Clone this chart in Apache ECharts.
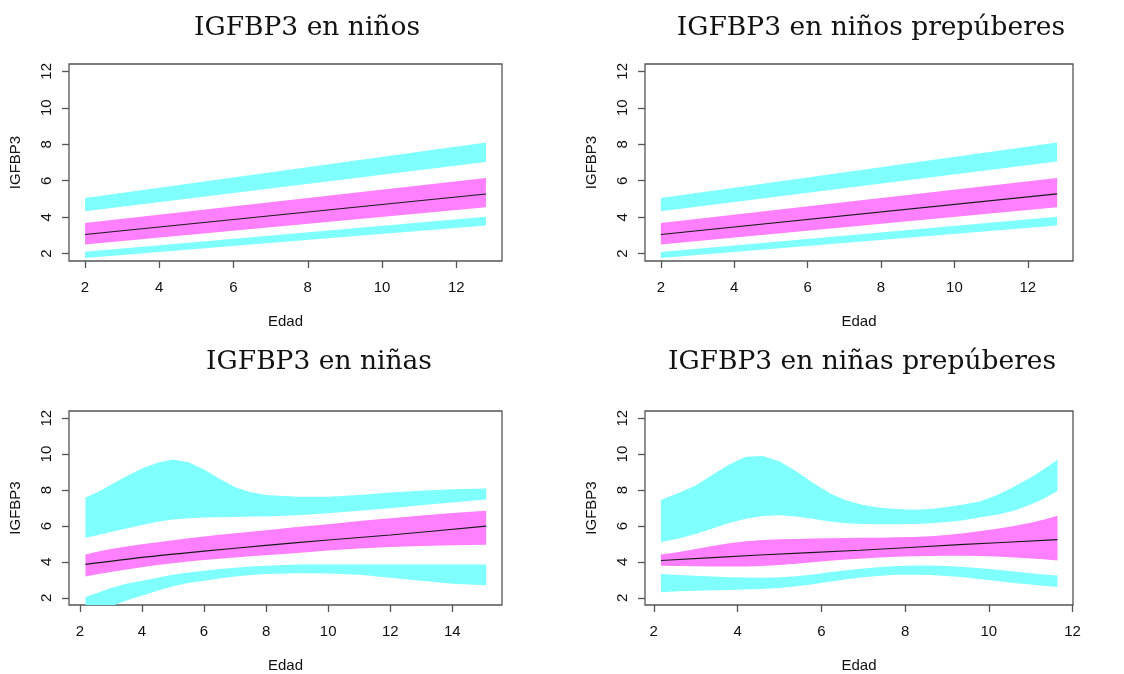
<!DOCTYPE html>
<html>
<head>
<meta charset="utf-8">
<script src="https://cdn.jsdelivr.net/npm/echarts@6/dist/echarts.min.js"></script>
<style>
  html, body { margin: 0; padding: 0; background: #fff; }
  #chart { width: 1124px; height: 674px; }
</style>
</head>
<body>
<div id="chart"></div>
<script>
// titles and ticks
const panelTitles = ['IGFBP3 en niños', 'IGFBP3 en niños prepúberes', 'IGFBP3 en niñas', 'IGFBP3 en niñas prepúberes'];
const yTicks = [2, 4, 6, 8, 10, 12];
const xTicksShort = [2, 4, 6, 8, 10, 12];
const xTicksLong = [2, 4, 6, 8, 10, 12, 14];

// panel 1: niños
const ninosX = [2, 12.8];
const ninosCyanHiTop = [5.06, 8.09];
const ninosCyanHiBot = [4.33, 7.03];
const ninosMagTop = [3.69, 6.15];
const ninosMagBot = [2.51, 4.55];
const ninosCyanLoTop = [2.11, 4.02];
const ninosCyanLoBot = [1.76, 3.54];
const ninosLineX = [2, 12.8];
const ninosLine = [3.05, 5.27];

// panel 2: niños prepúberes
const ninosPreX = [2, 12.8];
const ninosPreCyanHiTop = [5.06, 8.09];
const ninosPreCyanHiBot = [4.33, 7.05];
const ninosPreMagTop = [3.69, 6.15];
const ninosPreMagBot = [2.51, 4.55];
const ninosPreCyanLoTop = [2.1, 4.03];
const ninosPreCyanLoBot = [1.76, 3.55];
const ninosPreLineX = [2, 12.8];
const ninosPreLine = [3.05, 5.28];

// panel 3: niñas
const ninasX = [2.18, 2.6, 3, 3.5, 4, 4.5, 5, 5.5, 6, 6.5, 7, 7.5, 8, 9, 10, 11, 12, 13, 14, 15.09];
const ninasCyanHiTop = [7.58, 7.9, 8.3, 8.77, 9.2, 9.52, 9.7, 9.55, 9.15, 8.63, 8.15, 7.88, 7.72, 7.62, 7.62, 7.72, 7.86, 7.96, 8.04, 8.09];
const ninasCyanHiBot = [5.35, 5.5, 5.66, 5.86, 6.05, 6.23, 6.36, 6.43, 6.47, 6.49, 6.5, 6.52, 6.53, 6.6, 6.71, 6.84, 6.99, 7.15, 7.3, 7.48];
const ninasMagTop = [4.41, 4.58, 4.72, 4.86, 4.98, 5.1, 5.21, 5.32, 5.42, 5.51, 5.6, 5.68, 5.76, 5.94, 6.1, 6.27, 6.43, 6.58, 6.72, 6.84];
const ninasMagBot = [3.19, 3.33, 3.44, 3.57, 3.7, 3.82, 3.93, 4.02, 4.1, 4.18, 4.25, 4.31, 4.37, 4.5, 4.63, 4.74, 4.83, 4.89, 4.93, 4.96];
const ninasCyanLoTop = [2.04, 2.3, 2.55, 2.78, 2.95, 3.12, 3.28, 3.41, 3.5, 3.6, 3.67, 3.74, 3.79, 3.85, 3.86, 3.86, 3.86, 3.86, 3.86, 3.86];
const ninasCyanLoBot = [1.27, 1.35, 1.52, 1.85, 2.12, 2.4, 2.65, 2.82, 2.95, 3.08, 3.19, 3.27, 3.32, 3.37, 3.35, 3.28, 3.12, 2.95, 2.78, 2.7];
const ninasLineX = [2.18, 4, 6, 8, 10, 12, 15.09];
const ninasLine = [3.86, 4.25, 4.6, 4.92, 5.22, 5.5, 5.99];

// panel 4: niñas prepúberes
const ninasPreX = [2.17, 2.6, 3, 3.4, 3.8, 4.2, 4.6, 5, 5.4, 5.8, 6.2, 6.6, 7, 7.4, 7.8, 8.2, 8.6, 9, 9.4, 9.8, 10.2, 10.6, 11, 11.3, 11.64];
const ninasPreCyanHiTop = [7.45, 7.85, 8.25, 8.85, 9.42, 9.85, 9.9, 9.6, 9.05, 8.4, 7.82, 7.42, 7.17, 7.02, 6.94, 6.9, 6.95, 7.05, 7.2, 7.38, 7.72, 8.18, 8.7, 9.15, 9.68];
const ninasPreCyanHiBot = [5.11, 5.3, 5.55, 5.86, 6.16, 6.4, 6.56, 6.6, 6.53, 6.4, 6.25, 6.15, 6.11, 6.1, 6.1, 6.11, 6.15, 6.22, 6.32, 6.48, 6.62, 6.85, 7.2, 7.5, 7.94];
const ninasPreMagTop = [4.41, 4.55, 4.72, 4.88, 5.04, 5.15, 5.22, 5.26, 5.28, 5.3, 5.32, 5.33, 5.34, 5.35, 5.37, 5.39, 5.43, 5.5, 5.6, 5.72, 5.85, 6.0, 6.18, 6.35, 6.57];
const ninasPreMagBot = [3.79, 3.77, 3.76, 3.75, 3.74, 3.74, 3.77, 3.82, 3.9, 3.98, 4.06, 4.13, 4.19, 4.24, 4.28, 4.31, 4.33, 4.34, 4.34, 4.33, 4.3, 4.25, 4.19, 4.14, 4.08];
const ninasPreCyanLoTop = [3.32, 3.27, 3.23, 3.19, 3.15, 3.13, 3.12, 3.14, 3.2, 3.3, 3.42, 3.53, 3.63, 3.71, 3.77, 3.8, 3.8, 3.77, 3.72, 3.64, 3.56, 3.47, 3.37, 3.3, 3.24];
const ninasPreCyanLoBot = [2.31, 2.36, 2.4, 2.42, 2.44, 2.46, 2.49, 2.55, 2.64, 2.76, 2.9, 3.04, 3.15, 3.23, 3.28, 3.29, 3.27, 3.22, 3.14, 3.04, 2.94, 2.83, 2.74, 2.67, 2.6];
const ninasPreLineX = [2.17, 4.53, 6.92, 9.3, 11.64];
const ninasPreLine = [4.08, 4.38, 4.65, 4.96, 5.24];

const cyan = '#80ffff';
const magenta = '#ff80ff';
const frame = '#555555';

const panels = [
  {
    x: ninosX, bands: [[ninosCyanHiTop, ninosCyanHiBot, cyan], [ninosMagTop, ninosMagBot, magenta], [ninosCyanLoTop, ninosCyanLoBot, cyan]],
    lineX: ninosLineX, line: ninosLine, xMin: 1.568, xMax: 13.232, xTicks: xTicksShort,
    grid: {left: 69, top: 64, width: 433, height: 197}, titleX: 307, titleY: 28
  },
  {
    x: ninosPreX, bands: [[ninosPreCyanHiTop, ninosPreCyanHiBot, cyan], [ninosPreMagTop, ninosPreMagBot, magenta], [ninosPreCyanLoTop, ninosPreCyanLoBot, cyan]],
    lineX: ninosPreLineX, line: ninosPreLine, xMin: 1.568, xMax: 13.232, xTicks: xTicksShort,
    grid: {left: 645, top: 64, width: 428, height: 197}, titleX: 871, titleY: 28
  },
  {
    x: ninasX, bands: [[ninasCyanHiTop, ninasCyanHiBot, cyan], [ninasMagTop, ninasMagBot, magenta], [ninasCyanLoTop, ninasCyanLoBot, cyan]],
    lineX: ninasLineX, line: ninasLine, xMin: 1.65, xMax: 15.6, xTicks: xTicksLong,
    grid: {left: 69, top: 411, width: 433, height: 197}, titleX: 319, titleY: 362
  },
  {
    x: ninasPreX, bands: [[ninasPreCyanHiTop, ninasPreCyanHiBot, cyan], [ninasPreMagTop, ninasPreMagBot, magenta], [ninasPreCyanLoTop, ninasPreCyanLoBot, cyan]],
    lineX: ninasPreLineX, line: ninasPreLine, xMin: 1.79, xMax: 12.01, xTicks: xTicksShort,
    grid: {left: 645, top: 411, width: 428, height: 197}, titleX: 862, titleY: 362
  }
];

let grids = [], xAxes = [], yAxes = [], series = [], texts = [];

panels.forEach((p, i) => {
  grids.push(Object.assign({show: true, borderColor: frame, borderWidth: 1.3, backgroundColor: 'transparent'}, p.grid));
  texts.push({
    type: 'text', x: p.titleX, y: p.titleY,
    style: {
      text: panelTitles[i], textAlign: 'center', textVerticalAlign: 'middle',
      fontFamily: 'DejaVu Serif', fontSize: 26.5, fill: '#111'
    }
  });
  xAxes.push({
    type: 'value', gridIndex: i, min: p.xMin, max: p.xMax,
    name: 'Edad', nameLocation: 'middle', nameGap: 53,
    nameTextStyle: {fontFamily: 'Liberation Sans', fontSize: 15, color: '#111'},
    axisLine: {show: false},
    axisTick: {show: true, length: 7, customValues: p.xTicks, lineStyle: {color: frame, width: 1.3}},
    axisLabel: {customValues: p.xTicks, fontFamily: 'Liberation Sans', fontSize: 15, color: '#111', margin: 19},
    splitLine: {show: false}
  });
  yAxes.push({
    type: 'value', gridIndex: i, min: 1.6, max: 12.4,
    name: 'IGFBP3', nameLocation: 'middle', nameGap: 46, nameRotate: 90,
    nameTextStyle: {fontFamily: 'Liberation Sans', fontSize: 15, color: '#111'},
    axisLine: {show: false},
    axisTick: {show: true, length: 7, customValues: yTicks, lineStyle: {color: frame, width: 1.3}},
    axisLabel: {customValues: yTicks, rotate: 90, fontFamily: 'Liberation Sans', fontSize: 15, color: '#111', margin: 15},
    splitLine: {show: false}
  });
  p.bands.forEach((b) => {
    const xs = p.x, top = b[0], bot = b[1];
    series.push({
      type: 'custom', xAxisIndex: i, yAxisIndex: i, clip: true, silent: true,
      data: xs.map((x, k) => [x, top[k], bot[k]]),
      renderItem: (params, api) => {
        if (params.dataIndex !== 0) return null;
        const upper = xs.map((x, k) => api.coord([x, top[k]]));
        const lower = xs.map((x, k) => api.coord([x, bot[k]])).reverse();
        return {type: 'polygon', shape: {points: upper.concat(lower)}, style: {fill: b[2]}};
      }
    });
  });
  series.push({
    type: 'line', xAxisIndex: i, yAxisIndex: i, smooth: 0.3, symbol: 'none', silent: true,
    lineStyle: {color: '#1a1a1a', width: 1.1},
    data: p.lineX.map((x, k) => [x, p.line[k]])
  });
});

const chart = echarts.init(document.getElementById('chart'));
chart.setOption({
  animation: false,
  backgroundColor: '#fff',
  graphic: texts,
  grid: grids,
  xAxis: xAxes,
  yAxis: yAxes,
  series: series
});
</script>
</body>
</html>
